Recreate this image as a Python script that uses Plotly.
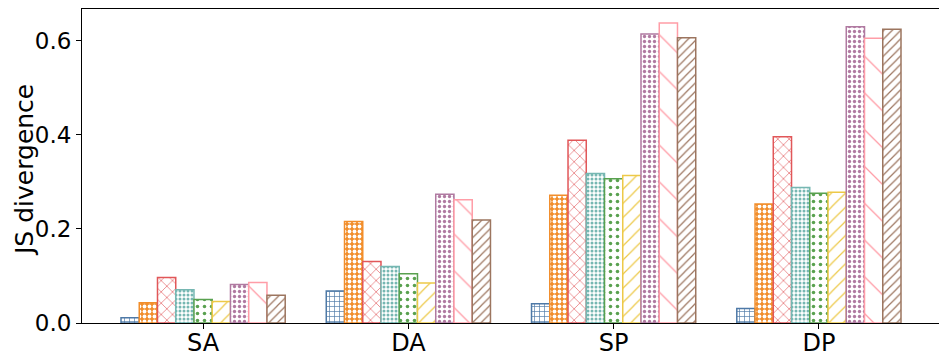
import plotly.graph_objects as go

# data
categories = ["SA", "DA", "SP", "DP"]
series_names = ["m1", "m2", "m3", "m4", "m5", "m6", "m7", "m8", "m9"]
values = [
    [0.011, 0.068, 0.041, 0.031],
    [0.043, 0.216, 0.272, 0.253],
    [0.097, 0.131, 0.389, 0.396],
    [0.071, 0.120, 0.318, 0.288],
    [0.050, 0.105, 0.307, 0.276],
    [0.046, 0.085, 0.314, 0.278],
    [0.082, 0.274, 0.615, 0.630],
    [0.086, 0.262, 0.638, 0.606],
    [0.059, 0.219, 0.607, 0.625],
]

colors = ["#4e79a7", "#f28e2b", "#e15759", "#76b7b2", "#59a14f",
          "#edc948", "#b07aa1", "#ff9da7", "#9c755f"]

# (shape, size, solidity, inverted) -- approximations of matplotlib hatches
patterns = [
    ("+", 5, 0.25, False),
    (".", 5, 0.45, True),
    ("x", 8, 0.15, False),
    (".", 4, 0.45, False),
    (".", 7, 0.2, False),
    ("/", 10, 0.12, False),
    (".", 5, 0.35, False),
    ("\\", 26, 0.05, False),
    ("/", 6, 0.2, False),
]

fig = go.Figure()
for name, vals, c, (shape, size, sol, inv) in zip(series_names, values, colors, patterns):
    fg, bg = ("white", c) if inv else (c, "white")
    fig.add_trace(go.Bar(
        x=categories, y=vals, name=name, showlegend=False,
        marker=dict(
            color=bg,
            line=dict(color=c, width=1.5),
            pattern=dict(shape=shape, size=size, solidity=sol,
                         fgcolor=fg, bgcolor=bg, fillmode="replace"),
        ),
    ))

# page body has an 8px margin, so the figure is shrunk to fit the window
fig.update_layout(
    width=939, height=355,
    margin=dict(l=74, r=7, t=1, b=40),
    barmode="group", bargap=0.2, bargroupgap=0,
    plot_bgcolor="white", paper_bgcolor="white",
    font=dict(family="DejaVu Sans", size=24, color="black"),
)
fig.update_xaxes(
    range=[-0.59, 3.59], showline=True, linecolor="black", linewidth=1,
    mirror=True, ticks="outside", ticklen=5, tickcolor="black", showgrid=False,
    ticklabelstandoff=-7,
)
fig.update_yaxes(
    range=[0, 0.668], tickvals=[0, 0.2, 0.4, 0.6], ticktext=["0.0", "0.2", "0.4", "0.6"],
    showline=True, linecolor="black", linewidth=1, mirror=True,
    ticks="outside", ticklen=5, tickcolor="black", showgrid=False, zeroline=False,
    tickfont=dict(size=23),
)

# y axis title as a rotated annotation, kept clear of the left page edge
fig.add_annotation(
    text="JS divergence", textangle=-90, showarrow=False,
    xref="paper", yref="paper", x=0, y=0.5, xanchor="center", yanchor="middle",
    xshift=-58, yshift=-4, font=dict(size=25),
)

fig.write_html("out.html")
